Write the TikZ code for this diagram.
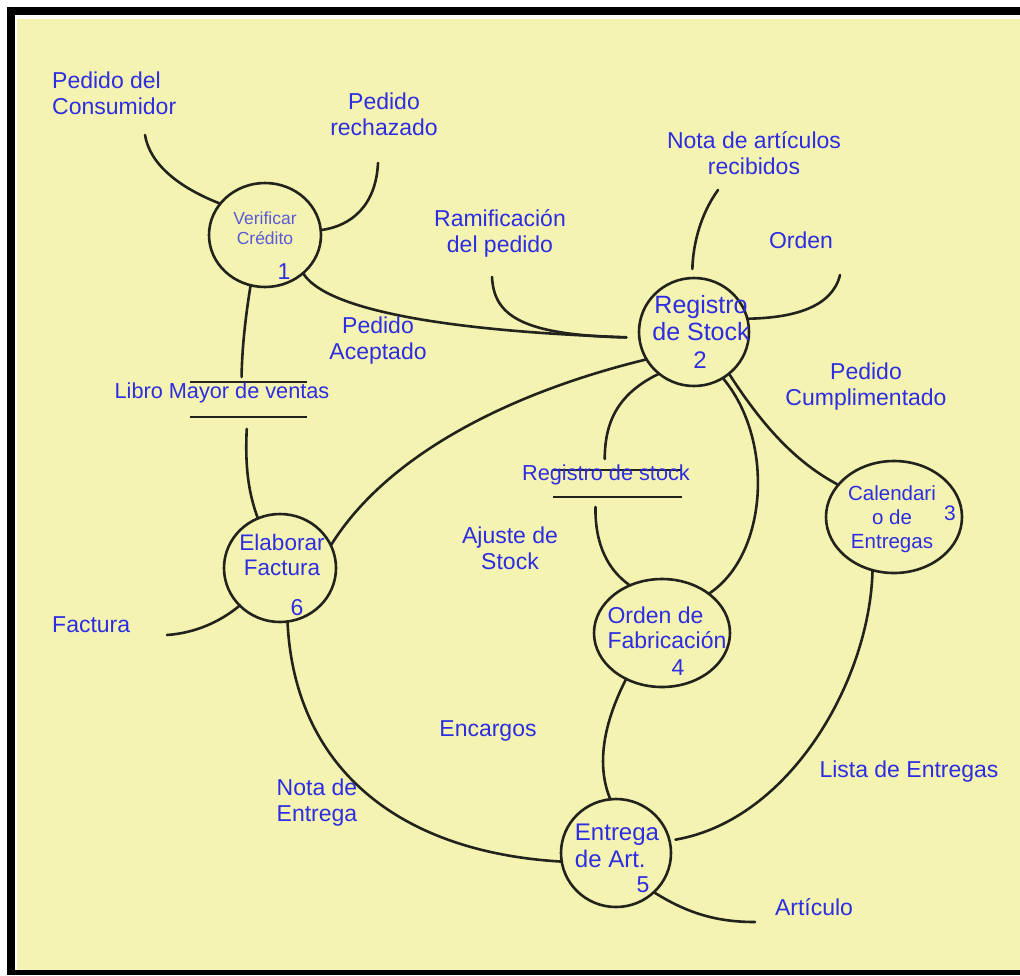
\documentclass[tikz,border=0pt]{standalone}
\usepackage{fontspec}
\setmainfont{Liberation Sans}
\usetikzlibrary{shapes.geometric,calc}
\definecolor{paper}{RGB}{245,243,178}
\definecolor{ink}{RGB}{35,35,30}
\definecolor{txtblue}{RGB}{45,45,225}
\definecolor{softblue}{RGB}{90,90,215}
\tikzset{
  flow/.style={draw=ink, line width=2.6pt, line cap=round},
  proc/.style={ellipse, draw=ink, line width=2.6pt, inner sep=0pt, outer sep=0pt},
  lbl/.style={text=txtblue, font=\fontsize{23}{26}\selectfont, align=center, inner sep=0pt},
  num/.style={text=txtblue, font=\fontsize{23}{26}\selectfont, inner sep=0pt},
  storebox/.style={inner sep=0pt, outer sep=0pt}
}
\begin{document}
\begin{tikzpicture}[x=1pt,y=-1pt]
\useasboundingbox (0,0) rectangle (1020,975);
% frame and paper
\fill[white] (0,0) rectangle (1020,975);
\fill[black] (7,7) rectangle (1020,975);
\fill[white] (15,15) rectangle (1020,970);
\fill[paper] (17,19) rectangle (1020,970);

% processes
\node[proc, minimum width=112pt, minimum height=104pt] (p1) at (265,235) {};
\node[proc, minimum width=110pt, minimum height=108pt] (p2) at (694,332) {};
\node[proc, minimum width=136pt, minimum height=112pt] (p3) at (894,517) {};
\node[proc, minimum width=136pt, minimum height=108pt] (p4) at (662,633) {};
\node[proc, minimum width=110pt, minimum height=108pt] (p5) at (616,853) {};
\node[proc, minimum width=112pt, minimum height=108pt] (p6) at (280,568) {};

% data stores
\node[storebox, minimum width=117pt, minimum height=35pt] (s1) at (248.5,399.5) {};
\node[storebox, minimum width=129pt, minimum height=27pt] (s2) at (617.5,483.5) {};
\draw[flow, line cap=butt] (s1.north west) -- (s1.north east);
\draw[flow, line cap=butt] (s1.south west) -- (s1.south east);
\draw[flow, line cap=butt] (s2.north west) -- (s2.north east);
\draw[flow, line cap=butt] (s2.south west) -- (s2.south east);
\coordinate (s1in)  at ($(s1.north west)!0.44!(s1.north east)$);
\coordinate (s1out) at ($(s1.south west)!0.49!(s1.south east)$);
\coordinate (s2in)  at ($(s2.north west)!0.40!(s2.north east)$);
\coordinate (s2out) at ($(s2.south west)!0.33!(s2.south east)$);

% free ends of external flows
\coordinate (eConsumidor) at (145,135);
\coordinate (eRechazado)  at (378,163);
\coordinate (eRamif)      at (492,277);
\coordinate (eNota)       at (718,190);
\coordinate (eOrden)      at (840,275);
\coordinate (eFactura)    at (167,635);
\coordinate (eArticulo)   at (755,922);

% flows
\draw[flow] (eConsumidor) .. controls (150,165) and (180,188) .. (p1.145);
\draw[flow] (eRechazado) .. controls (376,205) and (352,226) .. (p1.5);
\draw[flow, shorten >=13pt] (p1.-45) .. controls (322,305) and (420,330) .. (p2.186);
\draw[flow, shorten >=13pt] (eRamif) .. controls (494,315) and (520,335) .. (p2.186);
\draw[flow, shorten >=9pt] (eNota) .. controls (700,215) and (693,245) .. (p2.92);
\draw[flow] (eOrden) .. controls (832,308) and (792,318) .. (p2.14);
\draw[flow] (p2.-50) .. controls (762,425) and (795,462) .. (p3.150);
\draw[flow] (p2.-58) .. controls (775,440) and (768,555) .. (p4.40);
\draw[flow, shorten >=11pt] (p2.-130) .. controls (615,395) and (605,425) .. (s2in);
\draw[flow, shorten <=10pt] (s2out) .. controls (595,545) and (608,570) .. (p4.124);
\draw[flow] (p2.-150) .. controls (520,390) and (390,450) .. (p6.24);
\draw[flow, shorten >=5pt] (p1.-106) .. controls (245,320) and (242,350) .. (s1in);
\draw[flow, shorten <=12pt] (s1out) .. controls (245,465) and (248,492) .. (p6.114);
\draw[flow] (eFactura) .. controls (195,633) and (220,622) .. (p6.-137);
\draw[flow] (p6.-82) .. controls (294,765) and (395,852) .. (p5.189);
\draw[flow] (p4.-128) .. controls (600,730) and (598,770) .. (p5.96);
\draw[flow, shorten >=6pt] (p3.-112) .. controls (870,680) and (790,820) .. (p5.13);
\draw[flow] (p5.-46) .. controls (690,915) and (720,922) .. (eArticulo);

% process texts
\node[text=softblue, font=\fontsize{17.5}{20}\selectfont, align=center, inner sep=0pt] (t1) at (265,228) {Verificar\\Crédito};
\node[num] (n1) at (284,272) {1};
\node[lbl, font=\fontsize{25}{27}\selectfont] (t2) at (701,318) {Registro\\de Stock};
\node[num, font=\fontsize{24}{26}\selectfont] (n2) at (700,360) {2};
\node[lbl, font=\fontsize{20.5}{24}\selectfont] (t3) at (892,519) {Calendari\\o de\\Entregas};
\node[num, font=\fontsize{21}{24}\selectfont] (n3) at (950,513) {3};
\node[lbl, align=left, font=\fontsize{23}{25}\selectfont] (t4) at (667,627.5) {Orden de\\Fabricación};
\node[num] (n4) at (678,668) {4};
\node[lbl, align=left, font=\fontsize{24}{27}\selectfont] (t5) at (617,846) {Entrega\\de Art.};
\node[num] (n5) at (643,885) {5};
\node[lbl, font=\fontsize{22.5}{25}\selectfont] (t6) at (282,555) {Elaborar\\Factura};
\node[num] (n6) at (297,608) {6};

% store texts
\node[lbl, font=\fontsize{21.7}{26}\selectfont] (ts1) at (222,393) {Libro Mayor de ventas};
\node[lbl, font=\fontsize{21.7}{26}\selectfont] (ts2) at (606,475) {Registro de stock};

% flow texts
\node[lbl, align=left, anchor=west] (fConsumidor) at (52,93) {Pedido del\\Consumidor};
\node[lbl] (fRechazado) at (384,114) {Pedido\\rechazado};
\node[lbl] (fNota) at (754,153) {Nota de artículos\\recibidos};
\node[lbl] (fRamif) at (500,233) {Ramificación\\del pedido};
\node[lbl] (fOrden) at (801,240) {Orden};
\node[lbl] (fAceptado) at (378,341) {Pedido\\Aceptado};
\node[lbl] (fCumpl) at (866,387) {Pedido\\Cumplimentado};
\node[lbl] (fAjuste) at (510,548) {Ajuste de\\Stock};
\node[lbl, anchor=west] (fFactura) at (52,625) {Factura};
\node[lbl] (fEncargos) at (488,731) {Encargos};
\node[lbl] (fLista) at (909,772) {Lista de Entregas};
\node[lbl] (fEntrega) at (317,803) {Nota de\\Entrega};
\node[lbl] (fArticulo) at (814,907) {Artículo};
\end{tikzpicture}
\end{document}
